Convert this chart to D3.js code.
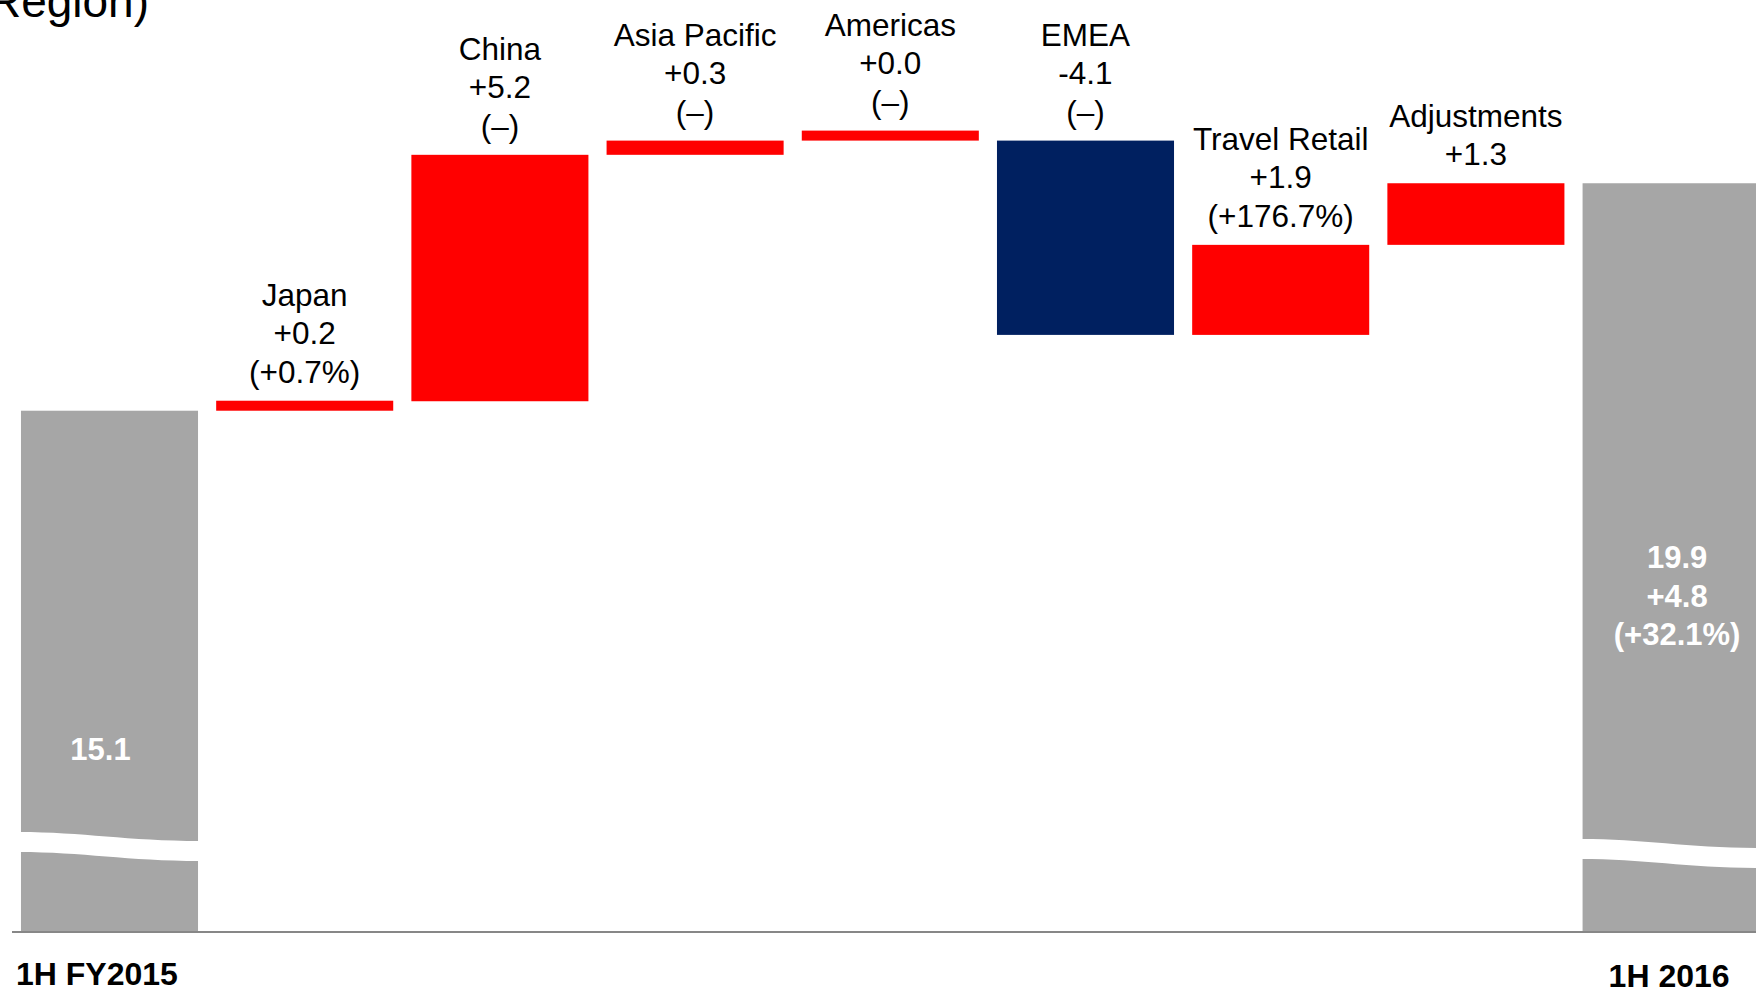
<!DOCTYPE html>
<html>
<head>
<meta charset="utf-8">
<script src="https://cdn.jsdelivr.net/npm/d3@7"></script>
<style>
  html, body { margin: 0; padding: 0; background: #fff; overflow: hidden; }
  svg { display: block; }
  text { font-family: "Liberation Sans", Arial, sans-serif; }
</style>
</head>
<body>
<svg id="chart" width="1756" height="994"></svg>
<script>
// ---- data ----
const categories = ["1H FY2015", "Japan", "China", "Asia Pacific", "Americas", "EMEA", "Travel Retail", "Adjustments", "1H 2016"];
const kinds      = ["total", "delta", "delta", "delta", "delta", "delta", "delta", "delta", "total"];
const values     = [15.1, 0.2, 5.2, 0.3, 0.0, -4.1, 1.9, 1.3, 19.9];
const valueLabels = ["15.1", "+0.2", "+5.2", "+0.3", "+0.0", "-4.1", "+1.9", "+1.3", "19.9"];
const pctLabels   = ["", "(+0.7%)", "(–)", "(–)", "(–)", "(–)", "(+176.7%)", "", "(+32.1%)"];
const totalChange = "+4.8";
const titleText = "Region)";

// ---- layout ----
const W = 1756, H = 994;
const axisY = 932;
const svg = d3.select("#chart");

const x = d3.scaleBand()
  .domain(categories)
  .range([11.9, 11.9 + 9 * 195.2])
  .paddingInner(0.093)
  .paddingOuter(0.0465);

const y = d3.scaleLinear().domain([4.1, 22.6]).range([axisY, 55.3]);

// waterfall levels
let level = 0;
const bars = categories.map((c, i) => {
  let start, end;
  if (kinds[i] === "total") { start = y.domain()[0]; end = values[i]; level = values[i]; }
  else { start = level; end = level + values[i]; level = end; }
  return { cat: c, kind: kinds[i], start, end, value: values[i], i };
});

const colorFor = d => d.kind === "total" ? "#A6A6A6" : (d.value < 0 ? "#002060" : "#FF0000");
const minH = 10;

bars.forEach(d => {
  let y0 = y(Math.max(d.start, d.end));
  let y1 = y(Math.min(d.start, d.end));
  if (y1 - y0 < minH) { y0 = y1 - minH; }
  d.top = y0; d.bottom = y1;
});

// title fragment (cut off at top-left, as in the source)
svg.append("text")
  .attr("x", 149).attr("y", 17)
  .attr("text-anchor", "end")
  .attr("font-size", 46)
  .attr("fill", "#000")
  .text(titleText);

// bars
svg.append("g").selectAll("rect")
  .data(bars)
  .join("rect")
  .attr("x", d => x(d.cat))
  .attr("width", x.bandwidth())
  .attr("y", d => d.top)
  .attr("height", d => d.bottom - d.top)
  .attr("fill", colorFor);

// axis-break bands on the total bars
const breakTop = { "1H FY2015": 100, "1H 2016": 93 };
bars.filter(d => d.kind === "total").forEach(d => {
  const x0 = x(d.cat) - 2, x1 = x(d.cat) + x.bandwidth() + 2, w = x1 - x0;
  const t0 = axisY - breakTop[d.cat], drop = 9, th = 20;
  const p = d3.path();
  p.moveTo(x0, t0);
  p.bezierCurveTo(x0 + w * 0.35, t0, x0 + w * 0.6, t0 + drop, x1, t0 + drop);
  p.lineTo(x1, t0 + drop + th);
  p.bezierCurveTo(x0 + w * 0.6, t0 + drop + th, x0 + w * 0.35, t0 + th, x0, t0 + th);
  p.closePath();
  svg.append("path").attr("d", p.toString()).attr("fill", "#fff");
});

// axis line
svg.append("line")
  .attr("x1", 12).attr("x2", W)
  .attr("y1", axisY).attr("y2", axisY)
  .attr("stroke", "#878787").attr("stroke-width", 2);

// labels above delta bars
const fs = 31.5, lh = 38.5;
bars.filter(d => d.kind === "delta").forEach(d => {
  const lines = [d.cat, valueLabels[d.i]];
  if (pctLabels[d.i]) lines.push(pctLabels[d.i]);
  const lastBase = d.top - 18;
  const cx = x(d.cat) + x.bandwidth() / 2;
  const t = svg.append("text")
    .attr("text-anchor", "middle")
    .attr("font-size", fs)
    .attr("fill", "#000");
  lines.forEach((s, k) => {
    t.append("tspan")
      .attr("x", cx)
      .attr("y", lastBase - (lines.length - 1 - k) * lh)
      .text(s);
  });
});

// inner labels on totals
const first = bars[0], last = bars[8];
svg.append("text")
  .attr("x", x(first.cat) + x.bandwidth() / 2 - 9)
  .attr("y", axisY - 172)
  .attr("text-anchor", "middle")
  .attr("font-size", 31).attr("font-weight", "bold")
  .attr("fill", "#fff")
  .text(valueLabels[0]);

const lastLines = [valueLabels[8], totalChange, pctLabels[8]];
const tl = svg.append("text")
  .attr("text-anchor", "middle")
  .attr("font-size", 31).attr("font-weight", "bold")
  .attr("fill", "#fff");
lastLines.forEach((s, k) => {
  tl.append("tspan")
    .attr("x", x(last.cat) + x.bandwidth() / 2 + 6)
    .attr("y", axisY - 287 - (lastLines.length - 1 - k) * lh)
    .text(s);
});

// bottom category labels for totals
svg.append("text")
  .attr("x", x(first.cat) - 5)
  .attr("y", 985)
  .attr("font-size", 32).attr("font-weight", "bold")
  .attr("fill", "#000")
  .text(first.cat);
svg.append("text")
  .attr("x", x(last.cat) + x.bandwidth() / 2 - 2)
  .attr("y", 987)
  .attr("text-anchor", "middle")
  .attr("font-size", 32).attr("font-weight", "bold")
  .attr("fill", "#000")
  .text(last.cat);
</script>
</body>
</html>
